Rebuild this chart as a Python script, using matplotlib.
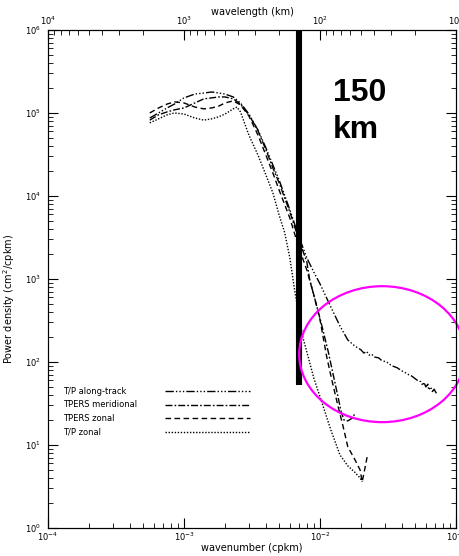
import numpy as np
import matplotlib.pyplot as plt
from matplotlib.patches import Ellipse

# wavenumber (cpkm) / power density (cm^2/cpkm)
along_k = [5.6e-4, 6.5e-4, 7.5e-4, 8.5e-4, 1e-3, 1.2e-3, 1.4e-3, 1.6e-3, 1.8e-3,
           2e-3, 2.3e-3, 2.6e-3, 3e-3, 3.5e-3, 4e-3, 4.5e-3, 5e-3, 6e-3, 7e-3,
           8e-3, 9e-3, 1e-2, 1.2e-2, 1.4e-2, 1.6e-2, 1.8e-2, 0.020, 0.021, 0.022,
           0.023, 0.024, 0.025, 0.027, 0.028, 0.030, 0.032, 0.033, 0.035, 0.037,
           0.039, 0.040, 0.042, 0.045, 0.047, 0.050, 0.052, 0.055, 0.057, 0.058,
           0.060, 0.062, 0.063, 0.065, 0.067, 0.069, 0.071, 0.073]
along_p = [8.7e4, 1.0e5, 1.15e5, 1.28e5, 1.52e5, 1.69e5, 1.74e5, 1.79e5, 1.74e5,
           1.69e5, 1.56e5, 1.32e5, 9.7e4, 6.2e4, 3.8e4, 2.36e4, 1.56e4, 6.8e3, 3.2e3,
           1.79e3, 1.21e3, 871, 460, 272, 184, 156, 140, 128, 134,
           121, 124, 115, 112, 106, 101, 97, 92, 88, 85,
           80, 78, 75, 70, 68, 63, 60, 58, 52, 57,
           50, 54, 46, 50, 44, 47, 43, 40]

merid_k = [5.6e-4, 6.5e-4, 7.5e-4, 8.5e-4, 1e-3, 1.2e-3, 1.4e-3, 1.6e-3, 1.8e-3,
           2e-3, 2.3e-3, 2.6e-3, 3e-3, 3.5e-3, 4e-3, 4.5e-3, 5e-3, 6e-3, 7e-3,
           8e-3, 8.4e-3, 9.5e-3, 1.05e-2, 1.15e-2, 1.25e-2, 1.36e-2, 1.43e-2,
           1.5e-2, 1.6e-2, 1.72e-2, 1.81e-2]
merid_p = [8.2e4, 9.5e4, 1.03e5, 1.09e5, 1.15e5, 1.32e5, 1.48e5, 1.52e5, 1.56e5,
           1.56e5, 1.48e5, 1.28e5, 9.5e4, 6.1e4, 3.6e4, 2.17e4, 1.44e4, 6.4e3, 2.95e3,
           1.6e3, 973, 460, 243, 132, 70, 37, 25,
           20, 19.5, 21, 24]

tpz_k = [5.6e-4, 6.5e-4, 7.5e-4, 8.5e-4, 1e-3, 1.2e-3, 1.4e-3, 1.6e-3, 1.8e-3,
         2e-3, 2.3e-3, 2.6e-3, 3e-3, 3.5e-3, 4e-3, 4.5e-3, 5e-3, 6e-3, 7e-3,
         8e-3, 9e-3, 1e-2, 1.12e-2, 1.22e-2, 1.36e-2, 1.48e-2, 1.6e-2, 1.81e-2,
         1.97e-2, 2.04e-2, 2.11e-2, 2.22e-2]
tpz_p = [1.0e5, 1.15e5, 1.28e5, 1.36e5, 1.32e5, 1.18e5, 1.12e5, 1.15e5, 1.21e5,
         1.32e5, 1.40e5, 1.25e5, 9.2e4, 5.4e4, 3.1e4, 1.89e4, 1.18e4, 5.4e3, 2.36e3,
         1.28e3, 641, 321, 115, 61, 28.7, 16.5, 9.5, 6.6,
         5.0, 3.6, 4.7, 7.2]

zon_k = [5.6e-4, 6.5e-4, 7.5e-4, 8.5e-4, 1e-3, 1.2e-3, 1.4e-3, 1.6e-3, 1.8e-3,
         2e-3, 2.3e-3, 2.45e-3, 2.6e-3, 3e-3, 3.5e-3, 4e-3, 4.5e-3, 5e-3, 5.5e-3,
         6e-3, 6.5e-3, 7e-3, 7.5e-3, 8e-3, 9e-3, 1e-2, 1.2e-2, 1.4e-2, 1.6e-2,
         1.8e-2, 1.97e-2, 2.04e-2]
zon_p = [7.6e4, 8.5e4, 9.5e4, 1.0e5, 9.7e4, 8.7e4, 8.2e4, 8.5e4, 9.0e4,
         9.7e4, 1.12e5, 1.18e5, 1.03e5, 5.4e4, 3.1e4, 1.79e4, 1.09e4, 5.9e3, 3.6e3,
         1.79e3, 736, 368, 194, 132, 64, 38, 15.2, 7.6, 5.6,
         4.7, 4.0, 3.6]

labels = ['T/P along-track', 'TPERS meridional', 'TPERS zonal', 'T/P zonal']
styles = [(0, (6, 1.5, 1, 1.5, 1, 1.5, 1, 1.5)),
          (0, (5, 1.5, 1.2, 1.5)),
          (0, (4, 2.5)),
          (0, (1, 1.2))]

cut_k = 7.0e-3      # ~150 km wavelength
cut_top, cut_bottom = 1e6, 53

fig = plt.figure(figsize=(4.59, 5.56), dpi=100)
ax = fig.add_axes([0.1046, 0.0504, 0.889, 0.8957])
ax.set_xscale('log')
ax.set_yscale('log')
ax.set_xlim(1e-4, 1e-1)
ax.set_ylim(1e0, 1e6)

series = [(along_k, along_p), (merid_k, merid_p), (tpz_k, tpz_p), (zon_k, zon_p)]
for (k, p), ls in zip(series, styles):
    ax.plot(k, p, color='black', lw=1.0, linestyle=ls)

# hand-drawn legend: text on the left, line sample on the right
for i, (lab, ls) in enumerate(zip(labels, styles)):
    yy = 0.275 - i * 0.0272
    ax.text(0.037, yy, lab, transform=ax.transAxes, fontsize=6, va='center')
    ax.plot([0.287, 0.495], [yy, yy], transform=ax.transAxes, color='black',
            lw=1.0, linestyle=ls)

ax.vlines(cut_k, cut_bottom, cut_top, color='black', lw=4.4, capstyle='butt',
          zorder=5)
ax.text(0.699, 0.857, '150', transform=ax.transAxes, fontsize=23,
        fontweight='bold', family='Liberation Sans', va='baseline')
ax.text(0.699, 0.783, 'km', transform=ax.transAxes, fontsize=23,
        fontweight='bold', family='Liberation Sans', va='baseline')

ell = Ellipse((0.819, 0.349), 0.407, 0.273, transform=ax.transAxes,
              fill=False, edgecolor='#ff00ff', lw=1.6, clip_on=False, zorder=6)
ax.add_patch(ell)

ax.tick_params(which='both', direction='in', top=False, right=True,
               labelsize=6)
ax.tick_params(axis='x', pad=2)
ax.tick_params(axis='y', pad=5)
ax.tick_params(which='major', length=7)
ax.tick_params(which='minor', length=3.5)
ax.set_xlabel('wavenumber (cpkm)', fontsize=7, labelpad=0)
ax.set_ylabel('Power density (cm$^2$/cpkm)', fontsize=7)
ax.yaxis.set_label_coords(-0.075, 0.46)

top = ax.twiny()
top.set_xscale('log')
top.set_xlim(1e4, 1e1)
top.tick_params(which='both', direction='in', labelsize=6, pad=2)
top.tick_params(which='major', length=7)
top.tick_params(which='minor', length=3.5)
top.set_xlabel('wavelength (km)', fontsize=7, labelpad=0)

fig.savefig('out.png', dpi=100)
